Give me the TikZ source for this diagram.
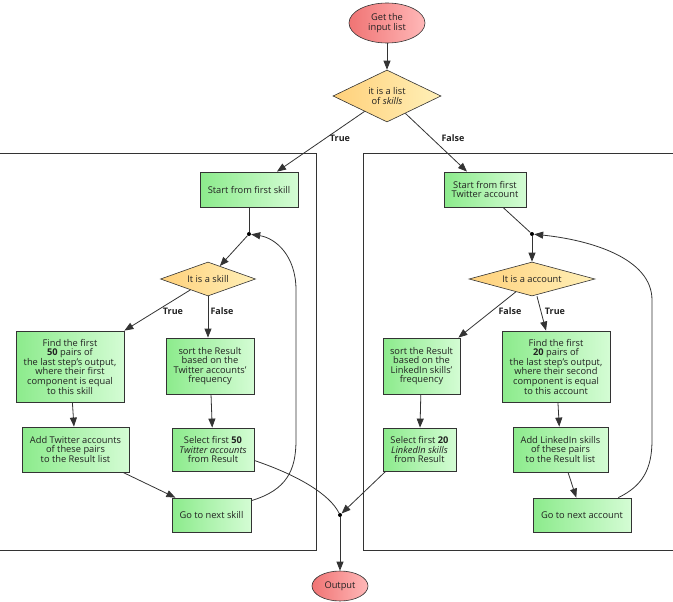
\documentclass[tikz,border=0pt]{standalone}
\usepackage{fontspec}
\setmainfont{Open Sans}
\usetikzlibrary{shapes.geometric,arrows.meta}
\definecolor{gA}{HTML}{8CEB8C}
\definecolor{gB}{HTML}{D4FCD4}
\definecolor{yA}{HTML}{FFD07A}
\definecolor{yB}{HTML}{FFF0B8}
\definecolor{rA}{HTML}{F07474}
\definecolor{rB}{HTML}{FFB8B8}
\definecolor{bd}{HTML}{333333}
\definecolor{tx}{HTML}{222222}
\begin{document}
\begin{tikzpicture}[x=1pt,y=-1pt,
  font=\fontsize{9.3}{9.6}\selectfont,
  box/.style={draw=bd, line width=0.8pt, left color=gA, right color=gB, align=center, inner sep=0pt, text=tx},
  dec/.style={diamond, aspect=3.7, draw=bd, line width=0.6pt, left color=yA, right color=yB, align=center, inner sep=0pt, text=tx},
  term/.style={ellipse, draw=bd, line width=0.6pt, left color=rA, right color=rB, align=center, inner sep=0pt, text=tx},
  arr/.style={draw=bd, line width=0.8pt, -{Triangle[length=9pt,width=7pt]}},
  ln/.style={draw=bd, line width=0.8pt},
  lab/.style={font=\fontsize{9}{9}\selectfont\bfseries, text=tx},
  dot/.style={circle, fill=black, inner sep=0pt, minimum size=4pt},
  panel/.style={draw=bd, line width=0.8pt}
]
\useasboundingbox (0,0) rectangle (673,602);
\clip (0,0) rectangle (673,602);
% panels
\draw[panel] (-5,153) rectangle (316,550);
\draw[panel] (363,153) rectangle (680,550);
% top
\node[term, minimum width=76pt, minimum height=40pt] (in) at (387,23) {Get the\\input list};
\node[dec, aspect=2, minimum width=108pt, minimum height=52pt] (d0) at (387,96) {it is a list\\of \textit{skills}};
% left
\node[box, minimum width=98pt, minimum height=35pt] (s1) at (249,189.5) {Start from first skill};
\node[dot] (j1) at (249,234) {};
\node[dec, minimum width=95pt, minimum height=34pt] (d1) at (208,279) {It is a skill};
\node[box, minimum width=108pt, minimum height=71pt] (f1) at (70,366.5) {Find the first\\\textbf{50} pairs of\\the last step's output,\\where their first\\component is equal\\to this skill};
\node[box, minimum width=88pt, minimum height=56pt] (o1) at (210,366) {sort the Result\\based on the\\Twitter accounts'\\frequency};
\node[box, minimum width=107pt, minimum height=45pt] (a1) at (75.5,449.5) {Add Twitter accounts\\of these pairs\\to the Result list};
\node[box, minimum width=82pt, minimum height=43pt] (l1) at (213,449.5) {Select first \textbf{50}\\\textit{Twitter accounts}\\from Result};
\node[box, minimum width=79pt, minimum height=34pt] (g1) at (211.5,515) {Go to next skill};
% right
\node[box, minimum width=82pt, minimum height=35pt] (s2) at (485,189.5) {Start from first\\Twitter account};
\node[dot] (j2) at (532,234) {};
\node[dec, minimum width=126pt, minimum height=34pt] (d2) at (532,279) {It is a account};
\node[box, minimum width=77pt, minimum height=56pt] (o2) at (421.5,366) {sort the Result\\based on the\\LinkedIn skills'\\frequency};
\node[box, minimum width=108pt, minimum height=71pt] (f2) at (556,366.5) {Find the first\\\textbf{20} pairs of\\the last step's output,\\where their second\\component is equal\\to this account};
\node[box, minimum width=73pt, minimum height=43pt] (l2) at (419.5,449.5) {Select first \textbf{20}\\\textit{LinkedIn skills}\\from Result};
\node[box, minimum width=95pt, minimum height=45pt] (a2) at (560.5,449.5) {Add LinkedIn skills\\of these pairs\\to the Result list};
\node[box, minimum width=98pt, minimum height=34pt] (g2) at (582,515) {Go to next account};
% bottom
\node[dot] (m) at (340,515) {};
\node[term, minimum width=56pt, minimum height=30pt] (out) at (340,586) {Output};
% connectors top
\draw[arr] (in) -- (d0);
\draw[arr] (d0) -- ([xshift=28pt]s1.north);
\draw[arr] (d0) -- ([xshift=-18pt]s2.north);
\node[lab] at (340,138) {True};
\node[lab] at (453,138) {False};
% left connectors
\draw[ln] (s1.south) -- (j1);
\draw[arr] (j1) -- (d1);
\draw[arr] (d1) -- (f1.north east);
\draw[arr] (d1.south) -- (d1.south |- o1.north);
\node[lab] at (173,311) {True};
\node[lab] at (222,311) {False};
\draw[arr] (f1) -- (a1);
\draw[arr] (o1) -- (l1);
\draw[arr] (a1) -- (g1);
\draw[arr] ([yshift=-3pt]g1.north east) .. controls (287,490) and (296,470) .. (296,440) -- (296,290) .. controls (296,255) and (275,238) .. (j1);
\draw[ln] ([yshift=-11pt]l1.east) .. controls (300,476) and (330,495) .. (m);
% right connectors
\draw[ln] ([xshift=18pt]s2.south) -- (j2);
\draw[arr] (j2) -- (d2);
\draw[arr] (d2) -- ([xshift=-2pt]o2.north east);
\draw[arr] ([xshift=5pt]d2.south) -- ([xshift=-10pt]f2.north);
\node[lab] at (510,311) {False};
\node[lab] at (555,311) {True};
\draw[arr] (o2) -- (l2);
\draw[arr] (f2) -- (a2);
\draw[arr] (a2) -- (g2);
\draw[arr] ([xshift=-13pt]g2.north east) .. controls (642,486) and (652,470) .. (652,440) -- (652,300) .. controls (652,258) and (590,240) .. (j2);
\draw[arr] ([xshift=3pt]l2.south west) -- (m);
\draw[arr] (m) -- (out);
\end{tikzpicture}
\end{document}
